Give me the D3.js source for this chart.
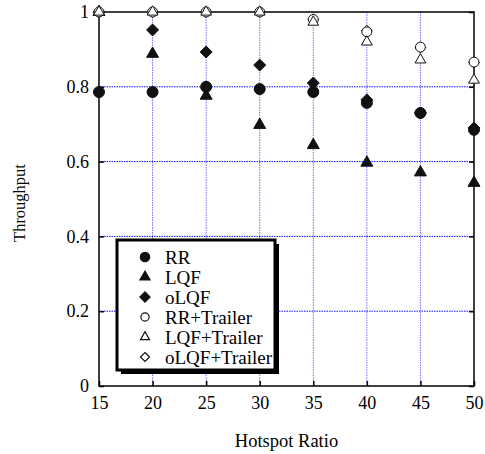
<!DOCTYPE html>
<html>
<head>
<meta charset="utf-8">
<script src="https://cdn.jsdelivr.net/npm/d3@7"></script>
<style>
  body { margin: 0; background: #fff; }
  text { font-family: "Liberation Serif", "Times New Roman", serif; fill: #000; }
</style>
</head>
<body>
<div id="chart"></div>
<script>
// hotspot ratios on the x axis
let ratios = [15, 20, 25, 30, 35, 40, 45, 50];

let rr = [0.786, 0.786, 0.80, 0.794, 0.786, 0.757, 0.73, 0.685];
let lqf = [1.0, 0.888, 0.776, 0.698, 0.644, 0.597, 0.571, 0.543];
let olqf = [1.0, 0.952, 0.893, 0.858, 0.81, 0.765, 0.73, 0.69];
let rrTrailer = [1.0, 1.0, 1.0, 1.0, 0.98, 0.947, 0.906, 0.866];
let lqfTrailer = [1.0, 1.0, 1.0, 1.0, 0.973, 0.92, 0.872, 0.818];
let olqfTrailer = [1.0, 1.0, 1.0, 1.0, 0.98, 0.95, 0.905, 0.865];

let seriesNames = ["RR", "LQF", "oLQF", "RR+Trailer", "LQF+Trailer", "oLQF+Trailer"];
let yTicks = [0, 0.2, 0.4, 0.6, 0.8, 1];

let series = [
  {name: seriesNames[0], values: rr, shape: "circle", filled: true},
  {name: seriesNames[1], values: lqf, shape: "triangle", filled: true},
  {name: seriesNames[2], values: olqf, shape: "diamond", filled: true},
  {name: seriesNames[3], values: rrTrailer, shape: "circle", filled: false},
  {name: seriesNames[4], values: lqfTrailer, shape: "triangle", filled: false},
  {name: seriesNames[5], values: olqfTrailer, shape: "diamond", filled: false}
];

// draw order so the open triangle / circle end up on top, as in the original
let drawOrder = [0, 1, 2, 5, 3, 4];

let margin = {top: 12, right: 11, bottom: 68, left: 99},
    width = 485 - margin.left - margin.right,
    height = 454 - margin.top - margin.bottom;

let svg = d3.select("#chart").append("svg")
    .attr("width", 485)
    .attr("height", 454);

let g = svg.append("g")
    .attr("transform", "translate(" + margin.left + "," + margin.top + ")");

let xScale = d3.scaleLinear().domain([15, 50]).range([0, width]);
let yScale = d3.scaleLinear().domain([0, 1]).range([height, 0]);

/* marker path: circle / triangle / diamond (rotated square) */
function markerPath(shape, scale) {
  let k = scale || 1;
  if (shape === "circle") return d3.symbol().type(d3.symbolCircle).size(95 * k * k)();
  if (shape === "triangle") return d3.symbol().type(d3.symbolTriangle).size(62 * k * k)();
  let r = 6 * k;
  return "M0," + (-r) + "L" + r + ",0L0," + r + "L" + (-r) + ",0Z";
}

/* grid */
g.append("g").selectAll("line")
    .data(ratios.slice(1, -1))
    .enter().append("line")
    .attr("x1", d => xScale(d)).attr("x2", d => xScale(d))
    .attr("y1", 0).attr("y2", height)
    .attr("stroke", "#7070ff").attr("stroke-width", 1)
    .attr("stroke-dasharray", "1.5,1");

g.append("g").selectAll("line")
    .data(yTicks.slice(1, -1))
    .enter().append("line")
    .attr("x1", 0).attr("x2", width)
    .attr("y1", d => yScale(d)).attr("y2", d => yScale(d))
    .attr("stroke", "#1010ff").attr("stroke-width", 1)
    .attr("stroke-dasharray", "1.5,1");

/* axes */
let xAxis = d3.axisBottom(xScale).tickValues(ratios).tickSize(-5).tickPadding(10).tickFormat(d3.format("d"));
let yAxis = d3.axisLeft(yScale).tickValues(yTicks).tickSize(-5).tickPadding(10).tickFormat(d => d === 0 || d === 1 ? d : d3.format(".1f")(d));

g.append("g").attr("class", "x axis")
    .attr("transform", "translate(0," + height + ")")
    .call(xAxis)
    .call(a => a.select(".domain").remove())
    .selectAll("text").style("font-size", "18px");

g.append("g").attr("class", "y axis")
    .call(yAxis)
    .call(a => a.select(".domain").remove())
    .selectAll("text").style("font-size", "18px");

g.append("g")
    .call(d3.axisRight(yScale).tickValues(yTicks).tickSize(-5).tickFormat(""))
    .attr("transform", "translate(" + width + ",0)")
    .call(a => a.select(".domain").remove());

g.append("rect")
    .attr("width", width).attr("height", height)
    .attr("fill", "none").attr("stroke", "#000").attr("stroke-width", 1.5);

g.selectAll(".tick line").attr("stroke", "#000").attr("stroke-width", 1.5);

/* markers */
drawOrder.forEach(function(idx) {
  let s = series[idx];
  g.append("g").selectAll("path")
      .data(s.values)
      .enter().append("path")
      .attr("transform", (d, i) => "translate(" + xScale(ratios[i]) + "," + yScale(d) + ")")
      .attr("d", markerPath(s.shape, s.filled ? 1 : 0.9))
      .attr("fill", s.filled ? "#111" : "#fff")
      .attr("stroke", "#111")
      .attr("stroke-width", 1);
});

/* legend */
let lx = 18, ly = 228, lw = 158, lh = 130;
g.append("rect")
    .attr("x", lx + 4).attr("y", ly + 4).attr("width", lw).attr("height", lh)
    .attr("fill", "#000");
g.append("rect")
    .attr("x", lx).attr("y", ly).attr("width", lw).attr("height", lh)
    .attr("fill", "#fff").attr("stroke", "#000").attr("stroke-width", 3);

let legend = g.append("g").selectAll("g")
    .data(series)
    .enter().append("g")
    .attr("transform", (d, i) => "translate(" + (lx + 28) + "," + (ly + 17 + i * 20) + ")");

legend.append("path")
    .attr("d", d => markerPath(d.shape, d.filled ? 0.85 : 0.75))
    .attr("fill", d => d.filled ? "#111" : "#fff")
    .attr("stroke", "#111").attr("stroke-width", 1.2);

legend.append("text")
    .attr("x", 20).attr("dy", "0.35em")
    .style("font-size", "19px")
    .text(d => d.name);

/* titles */
svg.append("text")
    .attr("x", margin.left + width / 2).attr("y", 447)
    .attr("text-anchor", "middle").style("font-size", "18.5px")
    .text("Hotspot Ratio");

svg.append("text")
    .attr("transform", "translate(25,203) rotate(-90)")
    .attr("text-anchor", "middle").style("font-size", "16.5px")
    .text("Throughput");
</script>
</body>
</html>
